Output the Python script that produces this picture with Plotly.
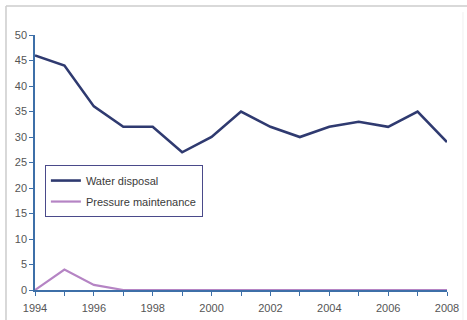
import plotly.graph_objects as go

years = list(range(1994, 2009))
water_disposal = [46, 44, 36, 32, 32, 27, 30, 35, 32, 30, 32, 33, 32, 35, 29]
pressure_maintenance = [0, 4, 1, 0, 0, 0, 0, 0, 0, 0, 0, 0, 0, 0, 0]
x_tick_labels = [str(y) for y in range(1994, 2009, 2)]
y_tick_vals = list(range(0, 51, 5))

fig = go.Figure()
fig.add_trace(go.Scatter(x=years, y=water_disposal, mode="lines", name="Water disposal",
                         legendgroup="a", line=dict(color="#2f3a70", width=2.6)))
fig.add_trace(go.Scatter(x=years, y=pressure_maintenance, mode="lines", name="Pressure maintenance",
                         legendgroup="b", line=dict(color="#b584c4", width=2.2)))

axis_color = "#3d6fa8"
fig.update_layout(
    width=467, height=320,
    margin=dict(l=35, r=20, t=35, b=30, autoexpand=False),
    paper_bgcolor="white", plot_bgcolor="white",
    font=dict(family="Liberation Sans, Arial", size=11, color="#555555"),
    showlegend=True,
    legend=dict(x=0.024, y=0.490, xanchor="left", yanchor="top",
                bordercolor="#4a4a8a", borderwidth=1, bgcolor="white",
                font=dict(size=11, color="#3a3a3a"), itemwidth=30,
                tracegroupgap=2),
    xaxis=dict(range=[1994, 2008], tickvals=[int(t) for t in x_tick_labels], ticktext=x_tick_labels,
               showgrid=False, zeroline=False, showline=True, linecolor=axis_color, linewidth=1.5,
               ticks="outside", ticklen=4, tickcolor=axis_color, ticklabelstandoff=3,
               minor=dict(dtick=1, ticks="outside", ticklen=4, tickcolor=axis_color, showgrid=False),
               tickfont=dict(size=11, color="#555555"), automargin=False),
    yaxis=dict(range=[0, 50], tickvals=y_tick_vals, showgrid=False, zeroline=False,
               showline=True, linecolor=axis_color, linewidth=1.5,
               ticks="outside", ticklen=4, tickcolor=axis_color,
               tickfont=dict(size=11, color="#555555"), automargin=False),
    shapes=[
        dict(type="line", xref="paper", yref="paper", x0=-0.0704, x1=-0.0704, y0=1.1137, y1=-0.2,
             line=dict(color="#cccccc", width=1.5)),
        dict(type="line", xref="paper", yref="paper", x0=-0.0704, x1=1.06, y0=1.1137, y1=1.1137,
             line=dict(color="#cccccc", width=1.5)),
        dict(type="line", xref="paper", yref="paper", x0=1.0388, x1=1.0388, y0=1.09, y1=-0.2,
             line=dict(color="#f0f0f0", width=1)),
    ],
)
fig.write_html("out.html", config={"displayModeBar": False},
               post_script="document.body.style.margin='0';document.body.style.overflow='hidden';")
